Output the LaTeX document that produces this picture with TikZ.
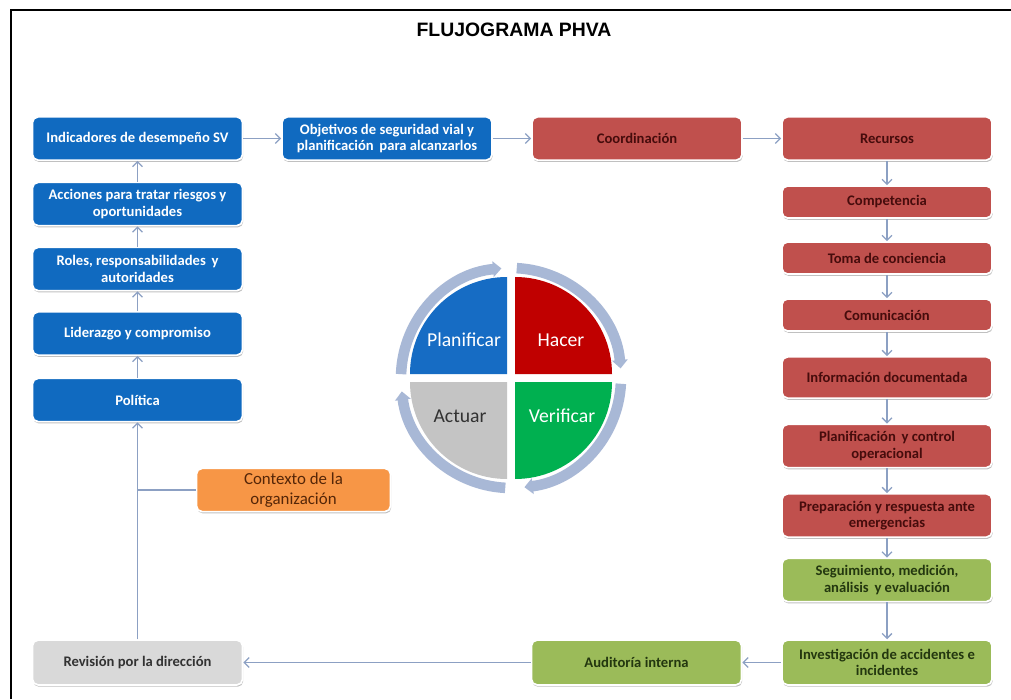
\documentclass[tikz,border=0pt]{standalone}
\usepackage{fontspec}
\setmainfont{Carlito}
\newfontfamily\titlefont{Liberation Sans}
\usetikzlibrary{arrows.meta,shadows}

\definecolor{azul}{RGB}{16,106,192}
\definecolor{rojo}{RGB}{192,80,77}
\definecolor{rojotxt}{RGB}{70,12,12}
\definecolor{verde}{RGB}{155,187,89}
\definecolor{verdetxt}{RGB}{35,55,15}
\definecolor{naranja}{RGB}{247,150,70}
\definecolor{naranjatxt}{RGB}{85,38,8}
\definecolor{gris}{RGB}{217,217,217}
\definecolor{gristxt}{RGB}{50,50,50}
\definecolor{flecha}{RGB}{140,160,195}
\definecolor{anillo}{RGB}{168,184,214}
\definecolor{qplan}{RGB}{22,108,196}
\definecolor{qhacer}{RGB}{192,0,0}
\definecolor{qverif}{RGB}{0,176,80}
\definecolor{qactuar}{RGB}{196,196,196}

\tikzset{
  caja/.style={rounded corners=4pt, draw=white, line width=1.2pt, minimum width=5.25cm,
    minimum height=1.08cm, align=center, inner sep=2pt,
    font=\fontsize{10.4}{11.5}\selectfont\bfseries,
    drop shadow={shadow xshift=0.5pt, shadow yshift=-1.3pt, fill=black!70, opacity=0.35}},
  cajaazul/.style={caja, fill=azul, text=white},
  cajaroja/.style={caja, fill=rojo, text=rojotxt},
  cajaverde/.style={caja, fill=verde, text=verdetxt},
  baja/.style={minimum height=0.8cm},
  flujo/.style={draw=flecha, line width=0.9pt, -{Straight Barb[length=3.5pt,width=7pt]}},
  ciclo/.style={draw=anillo, line width=7.5pt, -{Triangle[length=6pt,width=11pt]}},
  fase/.style={font=\fontsize{14}{16}\selectfont}
}

\begin{document}
\begin{tikzpicture}[x=0.025cm,y=0.025cm]
\useasboundingbox[fill=white] (0,0) rectangle (1011,699);
\draw[line width=2pt] (11,0) -- (11,689) -- (1011,689);
\node[font=\titlefont\fontsize{13.8}{16}\selectfont\bfseries] (titulo) at (514,669) {FLUJOGRAMA PHVA};

\node[cajaazul] (indicadores) at (137.5,560.5) {Indicadores de desempeño SV};
\node[cajaazul] (acciones) at (137.5,495) {Acciones para tratar riesgos y\\oportunidades};
\node[cajaazul] (roles) at (137.5,430) {Roles, responsabilidades\, y\\autoridades};
\node[cajaazul] (liderazgo) at (137.5,365.5) {Liderazgo y compromiso};
\node[cajaazul] (politica) at (137.5,299) {Política};
\node[caja, fill=naranja, text=naranjatxt, minimum width=4.85cm, font=\fontsize{12}{14}\selectfont] (contexto) at (293.5,209) {Contexto de la\\organización};
\node[caja, fill=gris, text=gristxt, minimum height=1.12cm] (revision) at (137.5,36.5) {Revisión por la dirección};

\node[cajaazul] (objetivos) at (387,560.5) {Objetivos de seguridad vial y\\planificación\, para alcanzarlos};
\node[cajaroja] (coordinacion) at (637,560.5) {Coordinación};
\node[cajaroja] (recursos) at (887,560.5) {Recursos};
\node[cajaroja, baja] (competencia) at (887,497) {Competencia};
\node[cajaroja, baja] (toma) at (887,441) {Toma de conciencia};
\node[cajaroja, baja] (comunicacion) at (887,384) {Comunicación};
\node[cajaroja, minimum height=1.03cm] (informacion) at (887,321.5) {Información documentada};
\node[cajaroja] (planificacion) at (887,253) {Planificación\, y control\\operacional};
\node[cajaroja] (preparacion) at (887,183.5) {Preparación y respuesta ante\\emergencias};
\node[cajaverde] (seguimiento) at (887,119) {Seguimiento, medición,\\análisis\, y evaluación};
\node[cajaverde, minimum height=1.12cm] (investigacion) at (887,36.5) {Investigación de accidentes e\\incidentes};
\node[cajaverde, minimum height=1.12cm] (auditoria) at (636.5,36.5) {Auditoría interna};

\draw[flujo] (politica) -- (liderazgo);
\draw[flujo] (liderazgo) -- (roles);
\draw[flujo] (roles) -- (acciones);
\draw[flujo] (acciones) -- (indicadores);
\draw[flujo] (indicadores) -- (objetivos);
\draw[flujo] (objetivos) -- (coordinacion);
\draw[flujo] (coordinacion) -- (recursos);
\draw[flujo] (recursos) -- (competencia);
\draw[flujo] (competencia) -- (toma);
\draw[flujo] (toma) -- (comunicacion);
\draw[flujo] (comunicacion) -- (informacion);
\draw[flujo] (informacion) -- (planificacion);
\draw[flujo] (planificacion) -- (preparacion);
\draw[flujo] (preparacion) -- (seguimiento);
\draw[flujo] (seguimiento) -- (investigacion);
\draw[flujo] (investigacion) -- (auditoria);
\draw[flujo] (auditoria) -- (revision);
\draw[flujo] (revision) -- (politica);
\coordinate (union) at (politica.south |- contexto.west);
\draw[draw=flecha, line width=0.9pt] (contexto) -- (union);

\coordinate (pdca) at (511,321);
\fill[qplan] (pdca) ++(-4,4) -- ++(-97,0) arc[start angle=180, end angle=90, radius=97] -- cycle;
\fill[qhacer] (pdca) ++(4,4) -- ++(0,97) arc[start angle=90, end angle=0, radius=97] -- cycle;
\fill[qverif] (pdca) ++(4,-4) -- ++(97,0) arc[start angle=0, end angle=-90, radius=97] -- cycle;
\fill[qactuar] (pdca) ++(-4,-4) -- ++(0,-97) arc[start angle=-90, end angle=-180, radius=97] -- cycle;
\draw[ciclo] (pdca) ++(178:110) arc[start angle=178, end angle=95, radius=110];
\draw[ciclo] (pdca) ++(87:110) arc[start angle=87, end angle=5, radius=110];
\draw[ciclo] (pdca) ++(-3:110) arc[start angle=-3, end angle=-83, radius=110];
\draw[ciclo] (pdca) ++(-93:110) arc[start angle=-93, end angle=-173, radius=110];
\node[fase, text=white] (planificar) at (464,359) {Planificar};
\node[fase, text=white] (hacer) at (561,359) {Hacer};
\node[fase, text=gristxt] (actuar) at (460,283) {Actuar};
\node[fase, text=white] (verificar) at (562,283) {Verificar};
\end{tikzpicture}
\end{document}
